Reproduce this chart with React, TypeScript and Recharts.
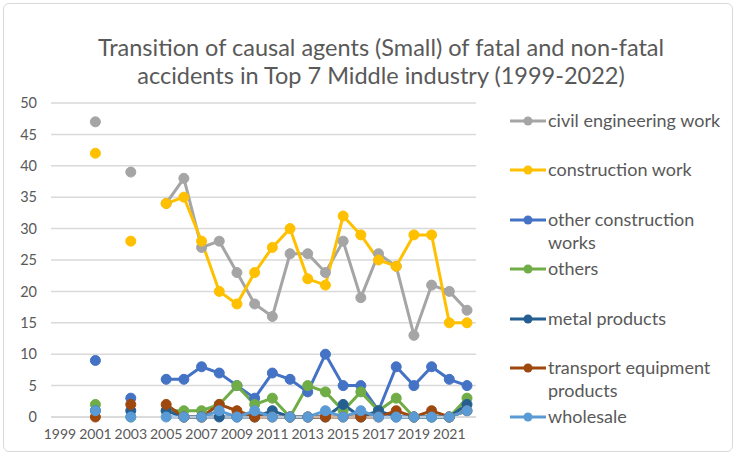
import {
  LineChart,
  Line,
  XAxis,
  YAxis,
  CartesianGrid,
} from "recharts";

const years = [
  "1999", "2000", "2001", "2002", "2003", "2004", "2005", "2006",
  "2007", "2008", "2009", "2010", "2011", "2012", "2013", "2014",
  "2015", "2016", "2017", "2018", "2019", "2020", "2021", "2022",
];

const civilEngineering = [null, null, 47, null, 39, null, 34, 38, 27, 28, 23, 18, 16, 26, 26, 23, 28, 19, 26, 24, 13, 21, 20, 17];
const construction = [null, null, 42, null, 28, null, 34, 35, 28, 20, 18, 23, 27, 30, 22, 21, 32, 29, 25, 24, 29, 29, 15, 15];
const otherConstruction = [null, null, 9, null, 3, null, 6, 6, 8, 7, 5, 3, 7, 6, 4, 10, 5, 5, 1, 8, 5, 8, 6, 5];
const others = [null, null, 2, null, 0, null, 1, 1, 1, 2, 5, 2, 3, 0, 5, 4, 1, 4, 1, 3, 0, 0, 0, 3];
const metalProducts = [null, null, 1, null, 1, null, 1, 0, 0, 0, 0, 0, 1, 0, 0, 0, 2, 0, 1, 0, 0, 0, 0, 2];
const transportEquipment = [null, null, 0, null, 2, null, 2, 0, 0, 2, 1, 0, 0, 0, 0, 0, 0, 0, 0, 1, 0, 1, 0, 1];
const wholesale = [null, null, 1, null, 0, null, 0, 0, 0, 1, 0, 1, 0, 0, 0, 1, 0, 1, 0, 0, 0, 0, 0, 1];

const yTicks = [0, 5, 10, 15, 20, 25, 30, 35, 40, 45, 50];

const series = [
  { key: "civil", name: "civil engineering work", color: "#A5A5A5", values: civilEngineering },
  { key: "construction", name: "construction work", color: "#FFC000", values: construction },
  { key: "otherConstruction", name: "other construction works", color: "#4472C4", values: otherConstruction },
  { key: "others", name: "others", color: "#70AD47", values: others },
  { key: "metal", name: "metal products", color: "#255E91", values: metalProducts },
  { key: "transport", name: "transport equipment products", color: "#9E480E", values: transportEquipment },
  { key: "wholesale", name: "wholesale", color: "#5B9BD5", values: wholesale },
];

const chartData = years.map((year, i) => {
  const row: Record<string, string | number | null> = { year };
  series.forEach((s) => {
    row[s.key] = s.values[i];
  });
  return row;
});

const FONT = "Lato, 'Open Sans', sans-serif";
const TEXT = "#595959";

// legend drawn beside the plot, Excel style (line + marker, wrapped names)
const LegendList = () => (
  <div
    style={{
      position: "absolute",
      left: 508,
      top: 109,
      fontFamily: FONT,
      fontSize: 18,
      color: TEXT,
    }}
  >
    {series.map((s) => (
      <div
        key={s.key}
        style={{ display: "flex", alignItems: "flex-start", height: 49.4 }}
      >
        <svg width={40} height={23} style={{ flexShrink: 0 }}>
          <line x1={2} y1={12} x2={38} y2={12} stroke={s.color} strokeWidth={3} />
          <circle cx={20} cy={12} r={4.5} fill={s.color} />
        </svg>
        <div style={{ lineHeight: "23px", width: 182 }}>{s.name}</div>
      </div>
    ))}
  </div>
);

const App = () => {
  return (
    <div
      style={{
        position: "fixed",
        left: 0,
        top: 0,
        width: 736,
        height: 455,
        background: "#fff",
      }}
    >
      <div
        style={{
          position: "absolute",
          left: 3,
          top: 3,
          width: 728,
          height: 447,
          border: "1px solid #d9d9d9",
          borderRadius: 6,
        }}
      />
      <div
        style={{
          position: "absolute",
          left: 0,
          top: 33,
          width: 762,
          textAlign: "center",
          fontFamily: FONT,
          fontSize: 23.5,
          lineHeight: "28px",
          color: TEXT,
        }}
      >
        Transition of causal agents (Small) of fatal and non-fatal
        <br />
        accidents in Top 7 Middle industry (1999-2022)
      </div>
      <LineChart
        width={736}
        height={455}
        data={chartData}
        margin={{ top: 103, right: 260, bottom: 0, left: 0 }}
        style={{ position: "absolute", left: 0, top: 0 }}
      >
        <CartesianGrid vertical={false} stroke="#d9d9d9" strokeWidth={1.5} />
        <XAxis
          dataKey="year"
          interval={1}
          tickLine={false}
          padding={{ left: 9, right: 9 }}
          axisLine={{ stroke: "#d9d9d9", strokeWidth: 1.5 }}
          height={38}
          tickMargin={6}
          tick={{ fontSize: 14, fill: TEXT, fontFamily: FONT }}
        />
        <YAxis
          domain={[0, 50]}
          ticks={yTicks}
          width={51}
          axisLine={false}
          tickLine={false}
          tickMargin={8}
          tick={{ fontSize: 14.5, fill: TEXT, fontFamily: FONT }}
        />
        {series.map((s) => (
          <Line
            key={s.key}
            type="linear"
            dataKey={s.key}
            name={s.name}
            stroke={s.color}
            strokeWidth={3}
            dot={{ r: 5, fill: s.color, stroke: s.color, strokeWidth: 1 }}
            activeDot={false}
            connectNulls={false}
            isAnimationActive={false}
          />
        ))}
      </LineChart>
      <LegendList />
    </div>
  );
};

export default App;
